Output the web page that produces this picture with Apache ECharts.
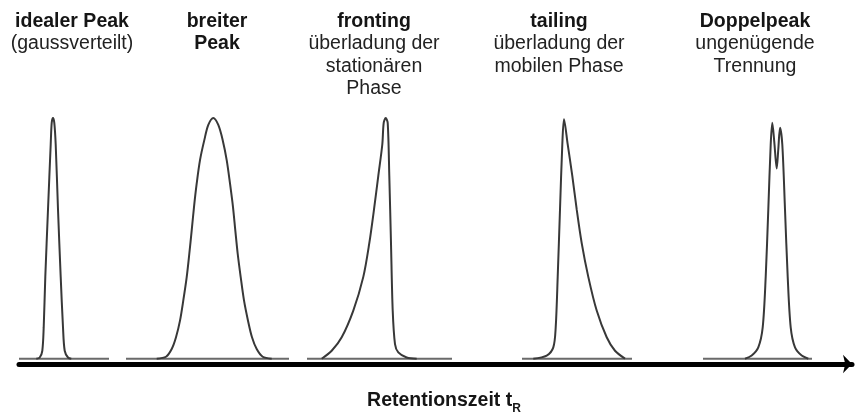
<!DOCTYPE html>
<html>
<head>
<meta charset="utf-8">
<script src="https://cdn.jsdelivr.net/npm/echarts@6/dist/echarts.min.js"></script>
<style>
  html, body { margin: 0; padding: 0; background: #fff; }
  #chart { width: 856px; height: 412px; }
</style>
</head>
<body>
<div id="chart"></div>
<script>
// peak shapes: [retention time, signal]
var peakIdeal = [[17.3, 0], [20.7, 0.5], [23.3, 3.3], [24.7, 13], [26.3, 34], [29, 62], [31.7, 89], [32.7, 98], [34, 100], [35.3, 98], [36.7, 89], [39, 62], [41.7, 34], [44, 13], [45.7, 3.3], [49, 0.5], [52.3, 0]]
var peakBroad = [[137.7, 0], [147, 0.8], [152.7, 4], [157, 8.9], [161, 15.8], [164.3, 24.2], [167.7, 33.9], [170.3, 43.6], [172.7, 53.3], [175, 63], [177.7, 72.8], [181, 82.5], [185.3, 90.8], [189.3, 97.1], [194.3, 100], [199.3, 97.1], [203.7, 90.8], [207.7, 82.5], [211, 72.8], [214, 63], [216.3, 53.3], [218.7, 43.6], [221.7, 33.9], [225, 24.2], [229, 15.8], [233, 8.9], [237.7, 4], [243.7, 0.8], [252.7, 0]]
var peakFronting = [[302.7, 0], [312.7, 3.3], [322.7, 8.9], [334.3, 20], [344.3, 34], [350.3, 48], [355, 62], [359.3, 76], [363.3, 89], [364.7, 98], [366.7, 100], [368.7, 98], [370.3, 76], [372, 48], [373.7, 20], [376, 6.1], [379.3, 2.6], [387.7, 0.5], [397.7, 0]]
var peakTailing = [[514.3, 0], [527.7, 1.3], [534.3, 4.7], [536.7, 13], [538.7, 34], [541, 62], [543.3, 89], [545, 99.5], [548.7, 89], [553.3, 76], [557.7, 62], [562.7, 48], [569.3, 34], [577.7, 20], [587.7, 8.9], [596, 3.3], [606, 0]]
var peakDouble = [[726, 0], [732.7, 1.3], [739.3, 4.7], [743.7, 13], [746.7, 34], [749.3, 62], [751.7, 89], [753.3, 98], [755.3, 90], [757.7, 79], [759.3, 87], [761, 96], [763.3, 89], [766, 62], [768.7, 34], [771.7, 13], [776, 4.7], [782.7, 1.3], [789.3, 0]]

// baseline segment under each peak: [start, end]
var baselineSpans = [[0, 90], [107, 270], [288, 433], [503, 613], [684, 793]]

var headerTitles = ['idealer Peak', 'breiter\nPeak', 'fronting', 'tailing', 'Doppelpeak']
var headerSubtexts = ['(gaussverteilt)', '', 'überladung der\nstationären\nPhase', 'überladung der\nmobilen Phase', 'ungenügende\nTrennung']
var headerCenters = [72, 217, 374, 559, 755]

var echartsInstance = echarts.init(document.getElementById('chart'))

var titles = headerTitles.map(function(text, i) {
    return {
        text: text,
        subtext: headerSubtexts[i],
        left: headerCenters[i],
        top: 10,
        padding: 0,
        itemGap: 0,
        textAlign: 'center',
        textVerticalAlign: 'top',
        textStyle: {
            fontFamily: 'Liberation Sans',
            fontSize: 19.5,
            fontWeight: 'bold',
            color: '#151515',
            lineHeight: 22.5
        },
        subtextStyle: {
            fontFamily: 'Liberation Sans',
            fontSize: 19.5,
            color: '#222',
            lineHeight: 22.5
        }
    }
})

titles.push({
    text: '{b|Retentionszeit t}{sub|R}',
    left: 444,
    top: 387,
    padding: 0,
    textAlign: 'center',
    textVerticalAlign: 'top',
    textStyle: {
        rich: {
            b: {
                fontFamily: 'Liberation Sans',
                fontSize: 19.5,
                fontWeight: 'bold',
                color: '#151515',
                lineHeight: 28
            },
            sub: {
                fontFamily: 'Liberation Sans',
                fontSize: 12,
                fontWeight: 'bold',
                color: '#151515',
                lineHeight: 12,
                verticalAlign: 'bottom'
            }
        }
    }
})

var series = []

baselineSpans.forEach(function(span) {
    series.push({
        type: 'line',
        data: [[span[0], 0], [span[1], 0]],
        symbol: 'none',
        silent: true,
        lineStyle: { color: '#6a6a6a', width: 2 },
        z: 1
    })
})

;[peakIdeal, peakBroad, peakFronting, peakTailing, peakDouble].forEach(function(peak) {
    series.push({
        type: 'line',
        data: peak,
        symbol: 'none',
        smooth: 0.3,
        silent: true,
        lineStyle: { color: '#383838', width: 2 },
        z: 2
    })
})

var options = {
    animation: false,
    backgroundColor: '#fff',
    title: titles,
    grid: {
        left: 19,
        right: 4,
        top: 118,
        bottom: 48
    },
    xAxis: {
        type: 'value',
        min: 0,
        max: 833,
        axisLine: {
            show: true,
            onZero: false,
            symbol: ['none', 'arrow'],
            symbolSize: [14, 9],
            lineStyle: { color: '#000', width: 5 }
        },
        axisTick: { show: false },
        axisLabel: { show: false },
        splitLine: { show: false }
    },
    yAxis: {
        type: 'value',
        min: -2.2,
        max: 100,
        show: false
    },
    series: series
}

echartsInstance.setOption(options)
</script>
</body>
</html>
